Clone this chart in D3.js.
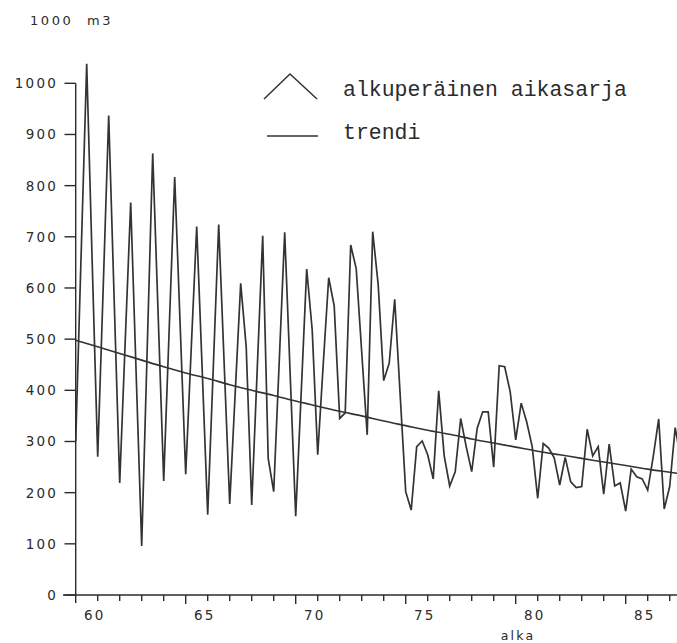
<!DOCTYPE html>
<html>
<head>
<meta charset="utf-8">
<script src="https://cdn.jsdelivr.net/npm/d3@7"></script>
<style>
  html, body { margin: 0; padding: 0; background: #fff; }
  svg { display: block; }
  .ax { font-family: "DejaVu Sans", sans-serif; font-size: 13.5px; letter-spacing: 2.2px; fill: #2b2b2b; }
  .lg { font-family: "Liberation Mono", monospace; font-size: 21.5px; fill: #2b2b2b; }
</style>
</head>
<body>
<script>
// ---- data ----
const unitLabel = "1000 m3";
const xTitle = "alka";
const legendLabels = ["alkuperäinen aikasarja", "trendi"];
const startYear = 60;          // first quarter of 1960
const periodsPerYear = 4;      // quarterly series
const seriesValues = [
  300, 670, 1038, 650,   270, 600, 937, 575,   219, 495, 767, 430,   96, 480, 863, 545,
  223, 520, 817, 525,    236, 480, 720, 440,   157, 440, 724, 450,   178, 395, 609, 485,
  176, 440, 702, 267,    202, 455, 709, 430,   154, 395, 637, 518,   274, 450, 620, 565,
  345, 356, 684, 638,    475, 313, 710, 606,   419, 453, 578, 390,   202, 166, 290, 301,
  274, 227, 399, 272,    213, 241, 345, 290,   241, 326, 358, 358,   250, 448, 446, 397,
  303, 375, 338, 290,    189, 296, 287, 268,   215, 269, 221, 210,   212, 324, 272, 290,
  197, 295, 213, 219,    164, 246, 231, 227,   205, 270, 344, 168,   212, 327, 265
];
const trendYears  = [60, 61, 62, 63, 64, 65, 66, 67, 68, 69, 70, 71, 72, 73, 74, 75, 76, 77, 78, 79, 80, 81, 82, 83, 84, 85, 86, 87, 88];
const trendValues = [498, 485, 472, 459, 446, 434, 423, 411, 400, 390, 379, 369, 359, 350, 340, 331, 322, 314, 305, 297, 289, 281, 274, 267, 260, 253, 246, 240, 234];
const yTicks = [0, 100, 200, 300, 400, 500, 600, 700, 800, 900, 1000];
const xMajorTicks = [60, 65, 70, 75, 80, 85];
const xMinorTicks = d3.range(61, 88);

// ---- layout ----
const W = 677, H = 643;
const x = d3.scaleLinear().domain([60, 87.4]).range([75.7, 678.5]);
const y = d3.scaleLinear().domain([0, 1000]).range([595, 83.3]);
const ink = "#2b2b2b";

const svg = d3.select("body").append("svg").attr("width", W).attr("height", H);

svg.append("clipPath").attr("id", "plot")
  .append("rect").attr("x", x(60)).attr("y", 0).attr("width", W - x(60)).attr("height", H);

// y axis
const yAxis = svg.append("g");
yAxis.append("line").attr("x1", x(60)).attr("x2", x(60)).attr("y1", y(1000)).attr("y2", 603)
  .attr("stroke", ink).attr("stroke-width", 1.4);
yAxis.selectAll("line.t").data(yTicks).join("line").attr("class", "t")
  .attr("x1", 64.5).attr("x2", x(60)).attr("y1", d => y(d)).attr("y2", d => y(d))
  .attr("stroke", ink).attr("stroke-width", 1.4);
yAxis.selectAll("text").data(yTicks).join("text").attr("class", "ax")
  .attr("x", 58).attr("y", d => y(d) + 5).attr("text-anchor", "end").text(d => d);

// x axis
const xAxis = svg.append("g");
xAxis.append("line").attr("x1", 63).attr("x2", W).attr("y1", y(0)).attr("y2", y(0))
  .attr("stroke", ink).attr("stroke-width", 1.4);
xAxis.selectAll("line.mi").data(xMinorTicks.filter(d => !xMajorTicks.includes(d))).join("line").attr("class", "mi")
  .attr("x1", d => x(d)).attr("x2", d => x(d)).attr("y1", y(0)).attr("y2", y(0) + 6)
  .attr("stroke", ink).attr("stroke-width", 1.4);
xAxis.selectAll("line.ma").data(xMajorTicks.filter(d => d !== 60)).join("line").attr("class", "ma")
  .attr("x1", d => x(d)).attr("x2", d => x(d)).attr("y1", y(0)).attr("y2", y(0) + 9)
  .attr("stroke", ink).attr("stroke-width", 1.4);
xAxis.selectAll("text").data(xMajorTicks).join("text").attr("class", "ax")
  .attr("x", d => x(d) + 19).attr("y", 620).attr("text-anchor", "middle").text(d => d);

svg.append("text").attr("class", "ax").attr("x", 518).attr("y", 640)
  .attr("text-anchor", "middle").style("font-size", "12.5px").text(xTitle);
svg.append("text").attr("class", "ax").attr("x", 30).attr("y", 25)
  .style("font-size", "13px").style("letter-spacing", "2.6px")
  .text(unitLabel.replace(" ", "\u00a0\u00a0"));

// series
const seriesData = seriesValues.map((v, i) => ({ t: startYear + i / periodsPerYear, v }));
const line = d3.line().x(d => x(d.t)).y(d => y(d.v));
svg.append("path").datum(seriesData).attr("clip-path", "url(#plot)")
  .attr("d", line).attr("fill", "none").attr("stroke", "#333").attr("stroke-width", 1.7)
  .attr("stroke-linejoin", "miter");

// trend
const trendData = trendYears.map((t, i) => ({ t, v: trendValues[i] }));
svg.append("path").datum(trendData).attr("clip-path", "url(#plot)")
  .attr("d", d3.line().x(d => x(d.t)).y(d => y(d.v)).curve(d3.curveMonotoneX))
  .attr("fill", "none").attr("stroke", "#333").attr("stroke-width", 1.6);

// legend
const lg = svg.append("g");
lg.append("path").attr("d", d3.line()([[264, 99], [290, 74], [317, 99]]))
  .attr("fill", "none").attr("stroke", "#333").attr("stroke-width", 1.5);
lg.append("line").attr("x1", 267).attr("x2", 318).attr("y1", 136).attr("y2", 136)
  .attr("stroke", "#333").attr("stroke-width", 1.5);
lg.append("text").attr("class", "lg").attr("x", 343).attr("y", 96).text(legendLabels[0]);
lg.append("text").attr("class", "lg").attr("x", 343).attr("y", 139).text(legendLabels[1]);
</script>
</body>
</html>
